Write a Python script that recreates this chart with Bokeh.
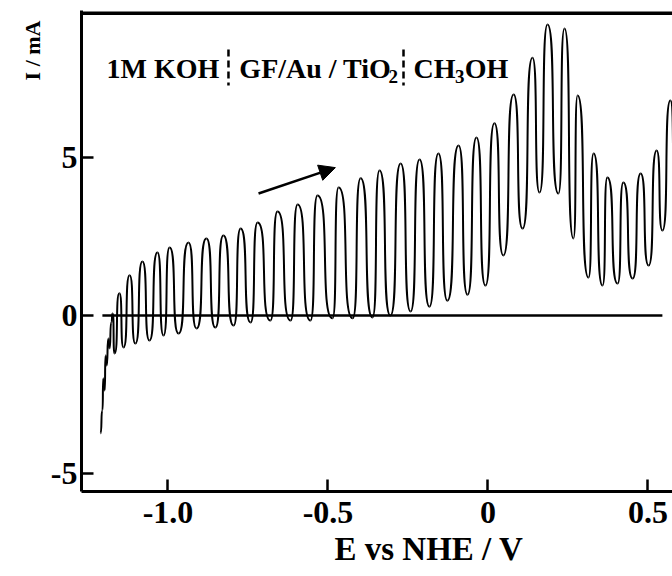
import numpy as np
from bokeh.plotting import figure
from bokeh.models import Range1d, FixedTicker, Label, Span, Arrow, NormalHead, Title
from bokeh.embed import file_html
from bokeh.resources import INLINE

# Chopped-light scan: successive turning points of the trace (E in V vs NHE, I in mA)
E_trace = [-1.211, -1.205, -1.202, -1.198, -1.195, -1.192, -1.186, -1.183, -1.177, -1.173,
           -1.167, -1.152, -1.139, -1.120, -1.102, -1.080, -1.058, -1.033, -1.014, -0.995,
           -0.967, -0.936, -0.911, -0.880, -0.852, -0.827, -0.795, -0.773, -0.742, -0.720,
           -0.680, -0.658, -0.617, -0.595, -0.555, -0.533, -0.486, -0.467, -0.423, -0.398,
           -0.361, -0.339, -0.305, -0.273, -0.242, -0.214, -0.183, -0.155, -0.127, -0.092,
           -0.064, -0.036, -0.008, 0.020, 0.048, 0.080, 0.108, 0.139, 0.161, 0.186,
           0.220, 0.239, 0.267, 0.280, 0.314, 0.330, 0.358, 0.373, 0.405, 0.423,
           0.452, 0.477, 0.502, 0.527, 0.545, 0.570, 0.586]
I_trace = [-3.73, -3.01, -1.99, -2.37, -1.27, -1.58, -0.73, -1.04, -0.22, 0.06,
           -1.20, 0.70, -1.01, 1.27, -0.89, 1.71, -0.79, 1.99, -0.63, 2.15,
           -0.57, 2.31, -0.41, 2.44, -0.38, 2.53, -0.32, 2.75, -0.22, 2.94,
           -0.16, 3.29, -0.16, 3.51, -0.16, 3.80, -0.09, 4.05, -0.09, 4.34,
           -0.06, 4.59, 0.00, 4.81, 0.13, 4.94, 0.28, 5.13, 0.47, 5.38,
           0.66, 5.63, 0.95, 6.08, 1.90, 6.99, 2.75, 8.16, 3.89, 9.21,
           3.86, 9.08, 2.44, 6.96, 1.20, 5.13, 0.95, 4.37, 1.01, 4.21,
           1.17, 4.49, 1.58, 5.22, 2.69, 6.80, 4.27]

zero_E = [-1.205, 0.545]
zero_I = [0.0, 0.0]

x_ticks = [-1.0, -0.5, 0.0, 0.5]
x_tick_labels = ["-1.0", "-0.5", "0", "0.5"]
y_ticks = [-5, 0, 5]
y_tick_labels = ["-5", "0", "5"]

FONT = "Liberation Serif"

p = figure(width=672, height=576, output_backend="svg", toolbar_location=None,
           x_range=Range1d(-1.2703, 0.5766), y_range=Range1d(-5.57, 9.652),
           min_border_left=81, min_border_right=0, min_border_top=10, min_border_bottom=85)
p.outline_line_color = None
p.xgrid.visible = False
p.ygrid.visible = False
p.background_fill_color = "white"
p.border_fill_color = "white"

for ax, ticks, labels in ((p.xaxis[0], x_ticks, x_tick_labels), (p.yaxis[0], y_ticks, y_tick_labels)):
    ax.ticker = FixedTicker(ticks=ticks)
    ax.major_label_overrides = {float(t): l for t, l in zip(ticks, labels)}
    ax.axis_line_width = 3
    ax.axis_line_color = "black"
    ax.major_tick_line_width = 2.5
    ax.major_tick_line_color = "black"
    ax.major_tick_in = 12
    ax.major_tick_out = 0
    ax.minor_tick_line_color = None
    ax.major_label_text_font = FONT
    ax.major_label_text_font_style = "bold"
    ax.major_label_text_font_size = "32px"
    ax.major_label_text_color = "black"
p.xaxis[0].major_label_standoff = 10
p.yaxis[0].major_label_standoff = 4

# axis titles placed as titles so they sit where the reference has them
p.add_layout(Title(text="I / mA", align="right", offset=10, standoff=2, vertical_align="top",
                   text_font=FONT, text_font_style="bold", text_font_size="22px",
                   text_color="black"), "left")
p.add_layout(Title(text="E vs NHE / V", align="left", offset=253, standoff=10, vertical_align="top",
                   text_font=FONT, text_font_style="bold", text_font_size="33px",
                   text_color="black"), "below")

# top frame line
p.add_layout(Span(location=9.567, dimension="width", line_color="black", line_width=3.5))

# zero line
p.line(zero_E, zero_I, line_color="black", line_width=2.5)

# trace: step-like curves between turning points
E = np.array(E_trace)
I = np.array(I_trace)
x0, x1 = E[:-1], E[1:]
y0, y1 = I[:-1], I[1:]
d = x1 - x0
p.bezier(x0=x0, y0=y0, x1=x1, y1=y1, cx0=x0 + 0.85 * d, cy0=y0, cx1=x1 - 0.85 * d, cy1=y1,
         line_color="black", line_width=2)

# arrow
p.add_layout(Arrow(end=NormalHead(size=16, fill_color="black", line_color="black"),
                   x_start=-0.717, y_start=3.86, x_end=-0.477, y_end=4.68,
                   line_color="black", line_width=2.5))

# electrochemical cell annotation
def lab(x, y, text, size="28px"):
    p.add_layout(Label(x=x, y=y, text=text, text_font=FONT, text_font_style="bold",
                       text_font_size=size, text_color="black", text_baseline="middle",
                       text_align="left"))

lab(-1.192, 7.83, "1M KOH")
lab(-0.777, 7.83, "GF/Au / TiO")
lab(-0.311, 7.57, "2", size="19px")
lab(-0.233, 7.83, "CH")
lab(-0.103, 7.57, "3", size="19px")
lab(-0.073, 7.83, "OH")
p.segment(x0=[-0.811, -0.264], y0=[8.42, 8.42], x1=[-0.811, -0.264], y1=[7.28, 7.28],
          line_color="black", line_width=2.5, line_dash="7 4")

open("out.html", "w").write(file_html(p, INLINE))
